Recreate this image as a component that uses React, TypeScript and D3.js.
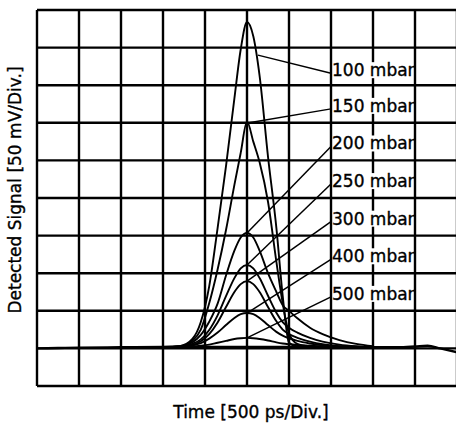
import React from "react";
import * as d3 from "d3";

// time in divisions (500 ps/div), signal in divisions (50 mV/div)
const pulseTime = [3.0, 3.4, 3.7, 3.9, 4.1, 4.3, 4.5, 4.7, 4.85, 5.0, 5.15, 5.3, 5.5, 5.7, 5.85, 6.0, 6.2, 6.5, 6.8, 7.2, 7.6, 8.0];

const mbar100 = [1.03, 1.06, 1.25, 1.7, 2.65, 4.2, 5.85, 7.65, 8.95, 9.68, 9.3, 8.25, 6.1, 4.2, 2.4, 1.15, 1.05, 1.03, 1.03, 1.03, 1.03, 1.03];
const mbar150 = [1.03, 1.05, 1.2, 1.5, 2.2, 3.1, 4.15, 5.35, 6.2, 7.03, 6.5, 5.95, 4.9, 3.3, 2.2, 1.4, 1.12, 1.05, 1.03, 1.03, 1.03, 1.03];
const mbar200 = [1.04, 1.06, 1.16, 1.36, 1.71, 2.19, 2.94, 3.6, 3.95, 4.07, 3.95, 3.6, 3.0, 2.5, 2.15, 2.0, 1.8, 1.55, 1.38, 1.22, 1.12, 1.06];
const mbar250 = [1.04, 1.05, 1.12, 1.24, 1.49, 1.88, 2.39, 2.87, 3.13, 3.22, 3.13, 2.87, 2.4, 1.95, 1.7, 1.55, 1.42, 1.28, 1.18, 1.1, 1.06, 1.04];
const mbar300 = [1.04, 1.04, 1.09, 1.19, 1.38, 1.69, 2.1, 2.5, 2.71, 2.79, 2.71, 2.5, 2.1, 1.72, 1.5, 1.38, 1.28, 1.18, 1.11, 1.06, 1.04, 1.04];
const mbar400 = [1.04, 1.04, 1.08, 1.14, 1.26, 1.42, 1.62, 1.81, 1.91, 1.94, 1.91, 1.81, 1.62, 1.44, 1.34, 1.27, 1.2, 1.13, 1.08, 1.05, 1.04, 1.04];
const mbar500 = [1.04, 1.04, 1.05, 1.07, 1.1, 1.15, 1.2, 1.25, 1.27, 1.28, 1.27, 1.25, 1.21, 1.16, 1.13, 1.11, 1.09, 1.07, 1.05, 1.04, 1.04, 1.04];

const baseTime = [0, 0.5, 1, 2, 3, 3.4, 7.6, 8, 8.6, 9, 9.3, 9.6, 10];
const baseValue = [1.0, 1.01, 1.02, 1.03, 1.04, 1.04, 1.04, 1.03, 1.03, 1.05, 1.07, 1.0, 0.9];

const labels = ["100 mbar", "150 mbar", "200 mbar", "250 mbar", "300 mbar", "400 mbar", "500 mbar"];
const labelRow = [8.4, 7.45, 6.45, 5.45, 4.45, 3.45, 2.45];
// where each leader line touches its trace
const leaderTime = [5.26, 5.05, 5.0, 5.0, 5.0, 5.0, 5.0];
const leaderValue = [8.8, 7.0, 4.07, 3.22, 2.79, 1.94, 1.28];

const series = [mbar100, mbar150, mbar200, mbar250, mbar300, mbar400, mbar500];
const divs = d3.range(0, 11);

export default function App() {
  const width = 456;
  const height = 425;
  const x = d3.scaleLinear().domain([0, 10]).range([37, 457]);
  const y = d3.scaleLinear().domain([0, 10]).range([386, 10]);

  const line = d3
    .line<number>()
    .x((d, i) => x(pulseTime[i]))
    .y(d => y(d))
    .curve(d3.curveMonotoneX);

  const baseLine = d3
    .line<number>()
    .x((d, i) => x(baseTime[i]))
    .y(d => y(d))
    .curve(d3.curveMonotoneX);

  const font = "'DejaVu Sans', sans-serif";
  // scanned print looks a little heavier than the regular face
  const textStyle = { stroke: "#000", strokeWidth: 0.35 };

  return (
    <svg
      width={width}
      height={height}
      style={{ position: "absolute", left: 0, top: 0, background: "#fff" }}
    >
      <g stroke="#000" strokeWidth={2.4}>
        {divs.map(d => (
          <line key={"v" + d} x1={x(d)} x2={x(d)} y1={y(0)} y2={y(10)} />
        ))}
        {divs.map(d => (
          <line key={"h" + d} x1={x(0)} x2={x(10)} y1={y(d)} y2={y(d)} />
        ))}
      </g>

      <path d={baseLine(baseValue) || ""} fill="none" stroke="#000" strokeWidth={2.4} />
      <g fill="none" stroke="#000" strokeWidth={1.9}>
        {series.map((s, i) => (
          <path key={i} d={line(s) || ""} />
        ))}
      </g>

      <g stroke="#000" strokeWidth={1.5}>
        {labels.map((l, i) => (
          <line
            key={l}
            x1={x(7)}
            y1={y(labelRow[i]) + 3}
            x2={x(leaderTime[i])}
            y2={y(leaderValue[i])}
          />
        ))}
      </g>

      {labels.map((l, i) => (
        <g key={l}>
          <rect x={x(7) + 2} y={y(labelRow[i]) - 8} width={80} height={16} fill="#fff" />
          <text
            x={x(7) + 1}
            y={y(labelRow[i]) + 6}
            fontFamily={font}
            fontSize={17}
            fill="#000"
            style={textStyle}
          >
            {l}
          </text>
        </g>
      ))}

      <text
        x={251}
        y={418}
        textAnchor="middle"
        fontFamily={font}
        fontSize={17}
        fill="#000"
        style={textStyle}
      >
        Time [500 ps/Div.]
      </text>
      <text
        transform={`translate(21, 190) rotate(-90)`}
        textAnchor="middle"
        fontFamily={font}
        fontSize={17}
        fill="#000"
        style={textStyle}
      >
        Detected Signal [50 mV/Div.]
      </text>
    </svg>
  );
}
